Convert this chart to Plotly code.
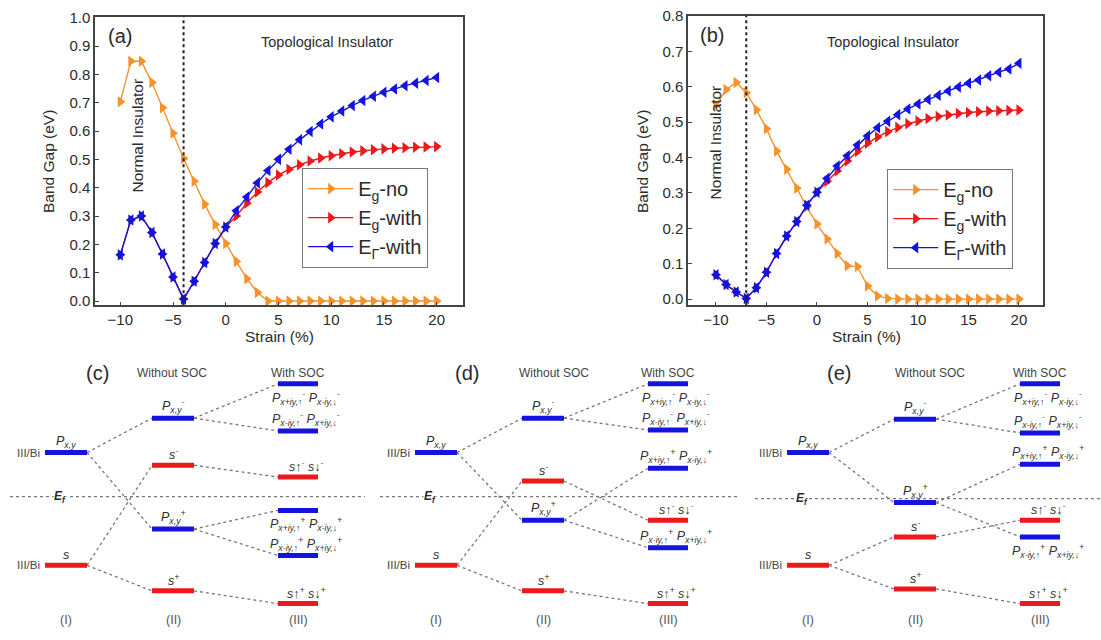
import plotly.graph_objects as go

W, H = 1101, 640
FONT = "Liberation Sans, Arial, sans-serif"
TXT = "#2b2b2b"

# ---------------- data: band gaps vs strain ----------------
strain = list(range(-10, 21))

# panel (a)
eg_no_a = [0.703, 0.846, 0.846, 0.771, 0.682, 0.592, 0.503, 0.423, 0.342, 0.270, 0.203,
           0.140, 0.079, 0.030, 0.000, 0.000, 0.000, 0.000, 0.000, 0.000, 0.000, 0.000,
           0.000, 0.000, 0.000, 0.000, 0.000, 0.000, 0.000, 0.000, 0.000]
eg_with_a = [0.163, 0.286, 0.300, 0.242, 0.166, 0.085, 0.007, 0.070, 0.136, 0.203, 0.261,
             0.300, 0.345, 0.385, 0.418, 0.445, 0.465, 0.481, 0.494, 0.505, 0.513, 0.520,
             0.526, 0.530, 0.534, 0.537, 0.539, 0.541, 0.543, 0.544, 0.545]
egam_with_a = [0.163, 0.286, 0.300, 0.242, 0.166, 0.085, 0.007, 0.070, 0.136, 0.203, 0.261,
               0.319, 0.367, 0.417, 0.461, 0.500, 0.536, 0.569, 0.598, 0.625, 0.650, 0.671,
               0.690, 0.708, 0.723, 0.737, 0.748, 0.760, 0.769, 0.778, 0.789]
crit_a = -4

# panel (b)
eg_no_b = [0.548, 0.592, 0.612, 0.583, 0.535, 0.481, 0.418, 0.367, 0.313, 0.260, 0.212,
           0.170, 0.129, 0.094, 0.092, 0.037, 0.009, 0.002, 0.000, 0.000, 0.000, 0.000,
           0.000, 0.000, 0.000, 0.000, 0.000, 0.000, 0.000, 0.000, 0.000]
eg_with_b = [0.069, 0.041, 0.020, 0.002, 0.032, 0.076, 0.129, 0.178, 0.219, 0.265, 0.302,
             0.333, 0.362, 0.390, 0.417, 0.440, 0.458, 0.473, 0.485, 0.495, 0.503, 0.510,
             0.516, 0.520, 0.524, 0.527, 0.529, 0.531, 0.532, 0.533, 0.534]
egam_with_b = [0.069, 0.041, 0.020, 0.002, 0.032, 0.076, 0.129, 0.178, 0.219, 0.265, 0.302,
               0.341, 0.376, 0.405, 0.435, 0.461, 0.484, 0.502, 0.521, 0.537, 0.551, 0.564,
               0.576, 0.588, 0.599, 0.610, 0.619, 0.631, 0.641, 0.650, 0.666]
crit_b = -7

series_names = ["E<sub>g</sub>-no", "E<sub>g</sub>-with", "E<sub>Γ</sub>-with"]
x_ticks = [-10, -5, 0, 5, 10, 15, 20]
y_ticks_a = [0.0, 0.1, 0.2, 0.3, 0.4, 0.5, 0.6, 0.7, 0.8, 0.9, 1.0]
y_ticks_b = [0.0, 0.1, 0.2, 0.3, 0.4, 0.5, 0.6, 0.7, 0.8]

# ---------------- data: energy-level diagrams (energy relative to Ef) ----------------
lev_I_c = {"P": 45, "s": -70}
lev_I_d = {"P": 45, "s": -70}
lev_I_e = {"P": 47, "s": -68}
lev_II_c = {"P-": 80, "s-": 32, "P+": -33, "s+": -96}
lev_II_d = {"P-": 80, "s-": 16, "P+": -24, "s+": -96}
lev_II_e = {"P-": 81, "P+": -4, "s-": -39, "s+": -92}
lev_III_c = {"P-a": 115, "P-b": 67, "s-": 20, "P+a": -14, "P+b": -60, "s+": -109}
lev_III_d = {"P-a": 115, "P-b": 68, "P+a": 29, "s-": -24, "P+b": -52, "s+": -109}
lev_III_e = {"P-a": 117, "P-b": 67, "P+a": 35, "s-": -22, "P+b": -39, "s+": -107}
side_III_c = {"P-a": -1, "P-b": 1, "s-": 1, "P+a": -1, "P+b": 1, "s+": 1}
side_III_d = {"P-a": -1, "P-b": 1, "P+a": 1, "s-": 1, "P+b": 1, "s+": 1}
side_III_e = {"P-a": -1, "P-b": 1, "P+a": 1, "s-": 1, "P+b": -1, "s+": 1}

labels_I = {"P": "P<sub>x,y</sub>", "s": "s"}
labels_II = {"P-": "P<sub>x,y</sub><sup>-</sup>", "s-": "s<sup>-</sup>",
             "P+": "P<sub>x,y</sub><sup>+</sup>", "s+": "s<sup>+</sup>"}
labels_III = {
    "P-a": "P<sub>x+iy,↑</sub><sup>-</sup> P<sub>x-iy,↓</sub><sup>-</sup>",
    "P-b": "P<sub>x-iy,↑</sub><sup>-</sup> P<sub>x+iy,↓</sub><sup>-</sup>",
    "P+a": "P<sub>x+iy,↑</sub><sup>+</sup> P<sub>x-iy,↓</sub><sup>+</sup>",
    "P+b": "P<sub>x-iy,↑</sub><sup>+</sup> P<sub>x+iy,↓</sub><sup>+</sup>",
    "s-": "s↑<sup>-</sup> s↓<sup>-</sup>",
    "s+": "s↑<sup>+</sup> s↓<sup>+</sup>",
}
links_I_II = [("P", "P-"), ("P", "P+"), ("s", "s-"), ("s", "s+")]
links_II_III = [("P-", "P-a"), ("P-", "P-b"), ("s-", "s-"), ("P+", "P+a"), ("P+", "P+b"), ("s+", "s+")]
col_titles = ["(I)", "(II)", "(III)"]
atom_label = "III/Bi"

# ---------------- styles ----------------
C_OR = "rgb(246,146,44)"
C_RED = "rgb(235,25,25)"
C_BLUE = "rgb(20,20,225)"
C_OVER = "rgb(45,20,150)"   # where red and blue symbols overlap
C_LINK = "rgb(120,120,120)"

def px(x):
    return x / W

def py(y):
    return 1 - y / H

fig = go.Figure()

# ---------------- top panels ----------------
panels = [
    dict(xa="x", ya="y", leg="legend", data=[eg_no_a, eg_with_a, egam_with_a], crit=crit_a),
    dict(xa="x2", ya="y2", leg="legend2", data=[eg_no_b, eg_with_b, egam_with_b], crit=crit_b),
]
styles = [(C_OR, "triangle-right"), (C_RED, "triangle-right"), (C_BLUE, "triangle-left")]
for p in panels:
    for i, (name, vals, (col, sym)) in enumerate(zip(series_names, p["data"], styles)):
        line = dict(color=col, width=1.4)
        if i == 1:
            mcol = [C_OVER if v == g else col for v, g in zip(vals, p["data"][2])]
            fig.add_trace(go.Scatter(
                x=strain, y=vals, name=name, mode="lines+markers", line=line,
                marker=dict(color=mcol, symbol=sym, size=10, line=dict(width=0)),
                xaxis=p["xa"], yaxis=p["ya"], showlegend=False))
            # legend entry for this series
            fig.add_trace(go.Scatter(
                x=[None], y=[None], name=name, mode="lines+markers", line=line,
                marker=dict(color=col, symbol=sym, size=10, line=dict(width=0)),
                xaxis=p["xa"], yaxis=p["ya"], legend=p["leg"]))
        else:
            fig.add_trace(go.Scatter(
                x=strain, y=vals, name=name, mode="lines+markers", line=line,
                marker=dict(color=col, symbol=sym, size=10, line=dict(width=0)),
                xaxis=p["xa"], yaxis=p["ya"], legend=p["leg"]))
    fig.add_shape(type="line", xref=p["xa"], yref=p["ya"] + " domain",
                  x0=p["crit"], x1=p["crit"], y0=0, y1=1,
                  line=dict(color="#222", width=2, dash="dot"))

axis_common = dict(showgrid=False, zeroline=False, showline=True, mirror=True,
                   linecolor="#444", linewidth=1.5, ticks="inside", ticklen=4,
                   tickcolor="#444", tickfont=dict(family=FONT, size=15, color=TXT))

layout = dict(
    width=W, height=H, margin=dict(l=0, r=0, t=0, b=0),
    paper_bgcolor="white", plot_bgcolor="white",
    font=dict(family=FONT, color=TXT),
    xaxis=dict(domain=[px(95), px(463)], range=[-12.4, 22.5], tickvals=x_ticks, anchor="y", **axis_common),
    yaxis=dict(domain=[py(303), py(9)], range=[-0.015, 1.003], tickvals=y_ticks_a,
               tickformat=".1f", anchor="x", **axis_common),
    xaxis2=dict(domain=[px(688), px(1043)], range=[-12.77, 22.38], tickvals=x_ticks, anchor="y2", **axis_common),
    yaxis2=dict(domain=[py(303), py(8)], range=[-0.0175, 0.8], tickvals=y_ticks_b,
                tickformat=".1f", anchor="x2", **axis_common),
    showlegend=True,
)
leg_common = dict(bgcolor="white", bordercolor="#777", borderwidth=1.2,
                  font=dict(family=FONT, size=20, color=TXT), itemwidth=45,
                  tracegroupgap=2, xanchor="left", yanchor="top", traceorder="normal")
layout["legend"] = dict(x=px(302), y=py(163), **leg_common)
layout["legend2"] = dict(x=px(887), y=py(164), **leg_common)

ann = []

def pann(text, x, y, size, angle=0, color=TXT):
    ann.append(dict(text=text, x=px(x), y=py(y), xref="paper", yref="paper", showarrow=False,
                    xanchor="center", yanchor="middle", textangle=angle,
                    font=dict(size=size, family=FONT, color=color)))

for (lab, lx, ly, tix, tiy, nix, niy, ylx, yly, sx, sy) in [
    ("(a)", 120, 29, 327, 35, 138, 130, 48, 157, 279, 335),
    ("(b)", 712, 28, 893, 35, 715, 137, 642, 157, 866, 335),
]:
    pann(lab, lx, ly, 20)
    pann("Topological Insulator", tix, tiy, 14.5)
    pann("Normal Insulator", nix, niy, 15.5, -90)
    pann("Band Gap (eV)", ylx, yly, 15.5, -90)
    pann("Strain (%)", sx, sy, 15.5)

# ---------------- bottom diagrams ----------------
col_x = [66, 173, 298]
half_w = [21, 21, 20]
diagrams = [
    dict(tag="(c)", n=3, left=0, width=370, ef_y=498, I=lev_I_c, II=lev_II_c, III=lev_III_c,
         side=side_III_c, wo_x=172, ef=(10, 365)),
    dict(tag="(d)", n=4, left=370, width=370, ef_y=498, I=lev_I_d, II=lev_II_d, III=lev_III_d,
         side=side_III_d, wo_x=184, ef=(10, 370)),
    dict(tag="(e)", n=5, left=742, width=359, ef_y=500, I=lev_I_e, II=lev_II_e, III=lev_III_e,
         side=side_III_e, wo_x=188, ef=(13, 359)),
]
top_px, bot_px = 340, 640
for d in diagrams:
    n = d["n"]
    xa, ya = f"x{n}", f"y{n}"
    layout[f"xaxis{n}"] = dict(domain=[px(d["left"]), px(d["left"] + d["width"])],
                               range=[0, d["width"]], visible=False, anchor=ya, fixedrange=True)
    layout[f"yaxis{n}"] = dict(domain=[py(bot_px), py(top_px)],
                               range=[d["ef_y"] - bot_px, d["ef_y"] - top_px], visible=False,
                               anchor=xa, fixedrange=True)
    fig.add_trace(go.Scatter(x=list(d["ef"]), y=[0, 0], mode="lines", showlegend=False,
                             line=dict(color=C_LINK, width=1.2, dash="dot"), xaxis=xa, yaxis=ya,
                             hoverinfo="skip"))
    lx, ly = [], []
    for a, b in links_I_II:
        lx += [col_x[0] + half_w[0], col_x[1] - half_w[1], None]
        ly += [d["I"][a], d["II"][b], None]
    for a, b in links_II_III:
        lx += [col_x[1] + half_w[1], col_x[2] - half_w[2], None]
        ly += [d["II"][a], d["III"][b], None]
    fig.add_trace(go.Scatter(x=lx, y=ly, mode="lines", showlegend=False, hoverinfo="skip",
                             line=dict(color=C_LINK, width=1.3, dash="dot"), xaxis=xa, yaxis=ya))
    bars = {C_BLUE: ([], []), C_RED: ([], [])}
    for ci, levs in enumerate([d["I"], d["II"], d["III"]]):
        for k, e in levs.items():
            col = C_BLUE if k.startswith("P") else C_RED
            bars[col][0].extend([col_x[ci] - half_w[ci], col_x[ci] + half_w[ci], None])
            bars[col][1].extend([e, e, None])
    for col, (bx, by) in bars.items():
        fig.add_trace(go.Scatter(x=bx, y=by, mode="lines", showlegend=False, hoverinfo="skip",
                                 line=dict(color=col, width=5), xaxis=xa, yaxis=ya))
    lab_font = dict(family=FONT, size=12.5, color=TXT)
    for k, e in d["I"].items():
        ann.append(dict(text=f"<i>{labels_I[k]}</i>", x=col_x[0], y=e, xref=xa, yref=ya,
                        showarrow=False, yanchor="bottom", yshift=1, font=lab_font))
        ann.append(dict(text=atom_label, x=col_x[0] - half_w[0] - 3, y=e, xref=xa, yref=ya,
                        showarrow=False, xanchor="right", font=dict(family=FONT, size=11.5, color="#444")))
    for k, e in d["II"].items():
        ann.append(dict(text=f"<i>{labels_II[k]}</i>", x=col_x[1], y=e, xref=xa, yref=ya,
                        showarrow=False, yanchor="bottom", yshift=1, font=lab_font))
    for k, e in d["III"].items():
        s = d["side"][k]
        ann.append(dict(text=f"<i>{labels_III[k]}</i>", x=col_x[2] + 8, y=e, xref=xa, yref=ya,
                        showarrow=False, yanchor="bottom" if s > 0 else "top",
                        yshift=1 if s > 0 else -3,
                        font=dict(family=FONT, size=12.5, color="#333")))
    ann.append(dict(text="<b><i>E<sub>f</sub></i></b>", x=60, y=0, xref=xa, yref=ya, showarrow=False,
                    bgcolor="white", borderpad=0, font=dict(family=FONT, size=12, color=TXT)))
    ann.append(dict(text=d["tag"], x=97, y=d["ef_y"] - 372, xref=xa, yref=ya, showarrow=False,
                    font=dict(family=FONT, size=20, color=TXT)))
    ann.append(dict(text="Without SOC", x=d["wo_x"], y=d["ef_y"] - 372, xref=xa, yref=ya,
                    showarrow=False, font=dict(family=FONT, size=12, color="#444")))
    ann.append(dict(text="With SOC", x=col_x[2], y=d["ef_y"] - 372, xref=xa, yref=ya,
                    showarrow=False, font=dict(family=FONT, size=12, color="#444")))
    for ci, t in enumerate(col_titles):
        ann.append(dict(text=t, x=col_x[ci], y=d["ef_y"] - 624, xref=xa, yref=ya, showarrow=False,
                        font=dict(family=FONT, size=12.5, color="#555")))

layout["annotations"] = ann
fig.update_layout(**layout)
fig.write_html("out.html")
